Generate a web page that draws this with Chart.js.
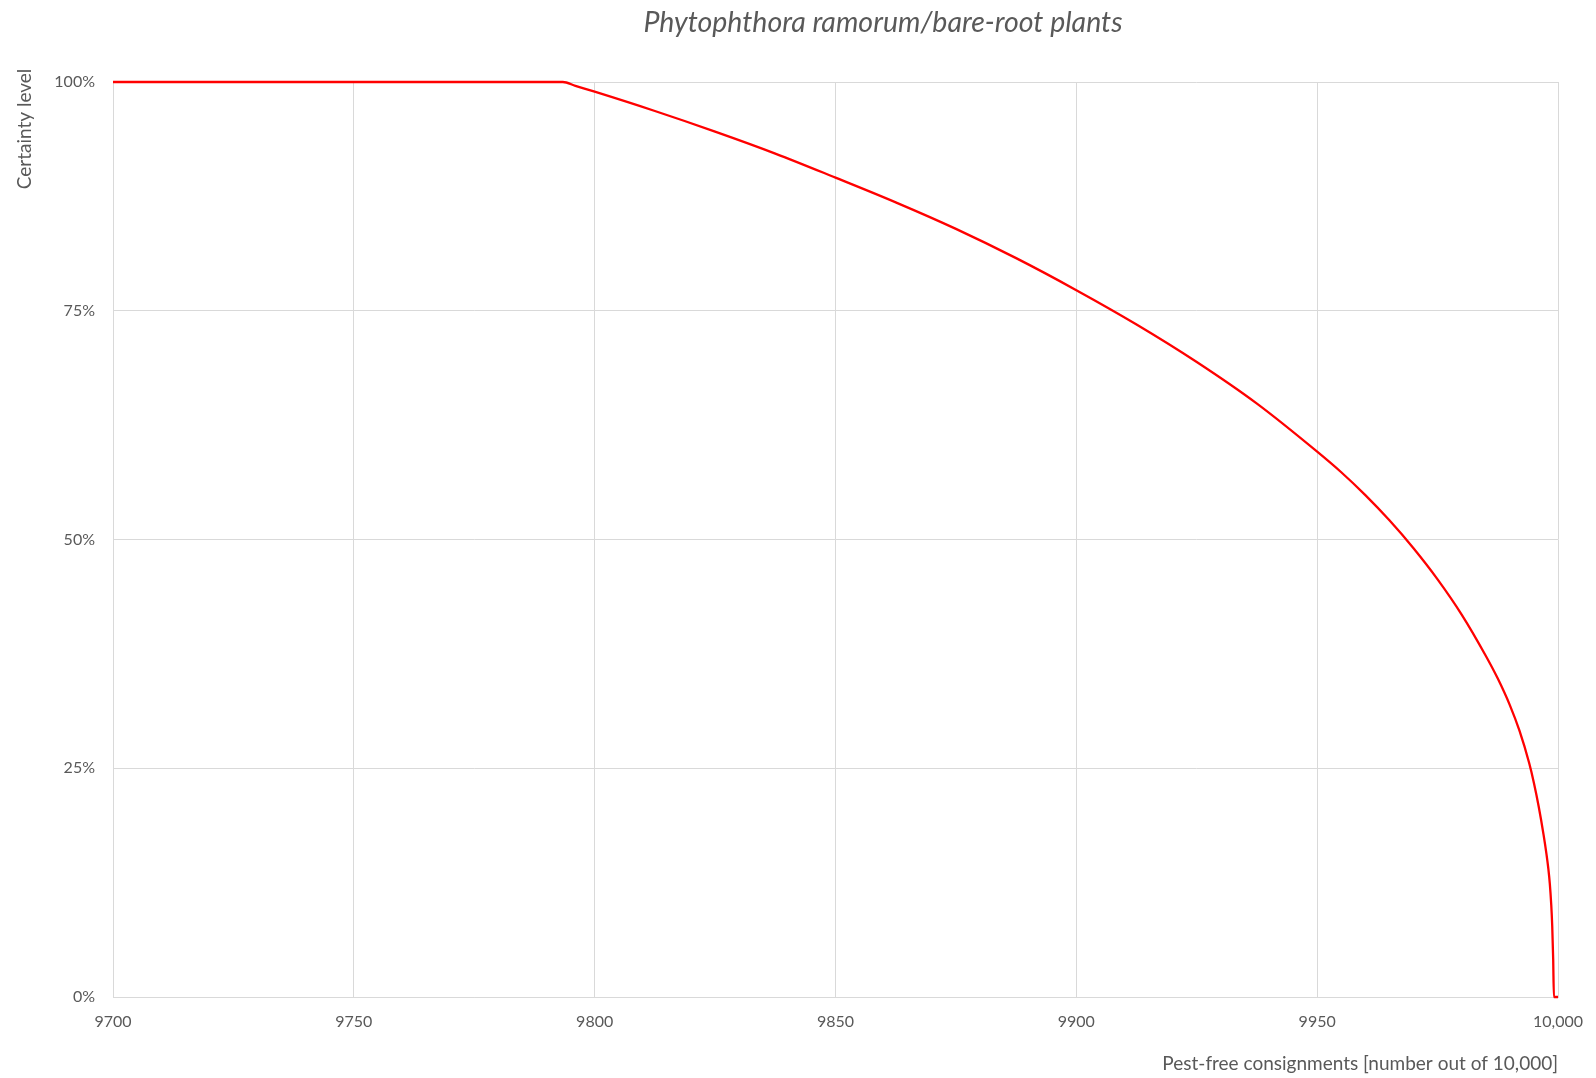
<!DOCTYPE html>
<html>
<head>
<meta charset="utf-8">
<script src="https://cdn.jsdelivr.net/npm/chart.js@4.4.1/dist/chart.umd.min.js"></script>
<style>
  html, body { margin: 0; padding: 0; background: #ffffff; }
  #wrap { width: 1596px; height: 1078px; }
</style>
</head>
<body>
<div id="wrap"><canvas id="c" width="1596" height="1078"></canvas></div>
<script>
// ---- data ----
const chartTitle = 'Phytophthora ramorum/bare-root plants';
const xAxisTitle = 'Pest-free consignments [number out of 10,000]';
const yAxisTitle = 'Certainty level';

const consignments = [9700, 9793.4, 9796, 9800, 9812.5, 9825, 9837.5, 9850, 9862.5, 9875,
  9887.5, 9900, 9912.5, 9925, 9937.5, 9950, 9955, 9960, 9965, 9970,
  9975, 9980, 9985, 9987.5, 9990, 9992, 9994, 9995, 9996, 9997,
  9997.6, 9998, 9998.3, 9998.6, 9998.8, 9999, 9999.15, 10000];
const certainty = [100, 100, 99.58, 98.94, 96.83, 94.58, 92.18, 89.55, 86.85, 83.95,
  80.75, 77.25, 73.5, 69.4, 64.85, 59.6, 57.35, 54.85, 52.1, 49.05,
  45.65, 41.8, 37.3, 34.8, 31.9, 29.1, 25.6, 23.4, 20.8, 17.75,
  15.65, 14.0, 12.4, 10.06, 7.76, 4.16, 0, 0];

const xTickValues = [9700, 9750, 9800, 9850, 9900, 9950, 10000];
const xTickLabels = ['9700', '9750', '9800', '9850', '9900', '9950', '10,000'];
const yTickValues = [0, 25, 50, 75, 100];
const yTickLabels = ['0%', '25%', '50%', '75%', '100%'];

// ---- styles ----
const textColor = '#595959';
const gridColor = '#d9d9d9';
const fontFamily = 'Lato, Carlito, "Open Sans", sans-serif';

const points = consignments.map((x, i) => ({ x: x, y: certainty[i] }));

const titlePlugin = {
  id: 'customTitles',
  afterDraw(chart) {
    const ctx = chart.ctx;
    ctx.save();
    ctx.fillStyle = textColor;
    ctx.font = 'italic 28.5px ' + fontFamily;
    ctx.textAlign = 'center';
    ctx.textBaseline = 'middle';
    ctx.fillText(chartTitle, 883, 23);
    ctx.restore();

    ctx.save();
    ctx.fillStyle = textColor;
    ctx.font = '19px ' + fontFamily;
    ctx.translate(25, 129);
    ctx.rotate(-Math.PI / 2);
    ctx.textAlign = 'center';
    ctx.textBaseline = 'middle';
    ctx.fillText(yAxisTitle, 0, 0);
    ctx.restore();
  }
};

new Chart(document.getElementById('c'), {
  type: 'line',
  data: {
    datasets: [{
      data: points,
      borderColor: '#ff0000',
      borderWidth: 2.3,
      pointRadius: 0,
      pointHoverRadius: 0,
      fill: false,
      cubicInterpolationMode: 'monotone',
      clip: false
    }]
  },
  options: {
    responsive: false,
    animation: false,
    events: [],
    layout: { padding: { left: 0, right: 38, top: 82, bottom: 0 } },
    plugins: {
      legend: { display: false },
      title: { display: false },
      tooltip: { enabled: false }
    },
    scales: {
      x: {
        type: 'linear',
        min: 9700,
        max: 10000,
        afterBuildTicks(scale) { scale.ticks = xTickValues.map(v => ({ value: v })); },
        afterFit(scale) { scale.height = 81; scale.paddingRight = 0; scale.paddingLeft = 0; },
        ticks: {
          color: textColor,
          font: { family: fontFamily, size: 16 },
          padding: 15,
          maxRotation: 0,
          autoSkip: false,
          callback(value) { const i = xTickValues.indexOf(value); return i >= 0 ? xTickLabels[i] : ''; }
        },
        grid: { color: gridColor, lineWidth: 1, drawTicks: false },
        border: { display: true, color: gridColor, width: 1 },
        title: {
          display: true,
          text: xAxisTitle,
          align: 'end',
          color: textColor,
          font: { family: fontFamily, size: 19 },
          padding: { top: 0, bottom: 3 }
        }
      },
      y: {
        type: 'linear',
        min: 0,
        max: 100,
        afterBuildTicks(scale) { scale.ticks = yTickValues.map(v => ({ value: v })); },
        afterFit(scale) { scale.width = 113; },
        ticks: {
          color: textColor,
          font: { family: fontFamily, size: 16 },
          padding: 18,
          callback(value) { const i = yTickValues.indexOf(value); return i >= 0 ? yTickLabels[i] : ''; }
        },
        grid: { color: gridColor, lineWidth: 1, drawTicks: false },
        border: { display: false },
        title: { display: false }
      }
    }
  },
  plugins: [titlePlugin]
});
</script>
</body>
</html>
